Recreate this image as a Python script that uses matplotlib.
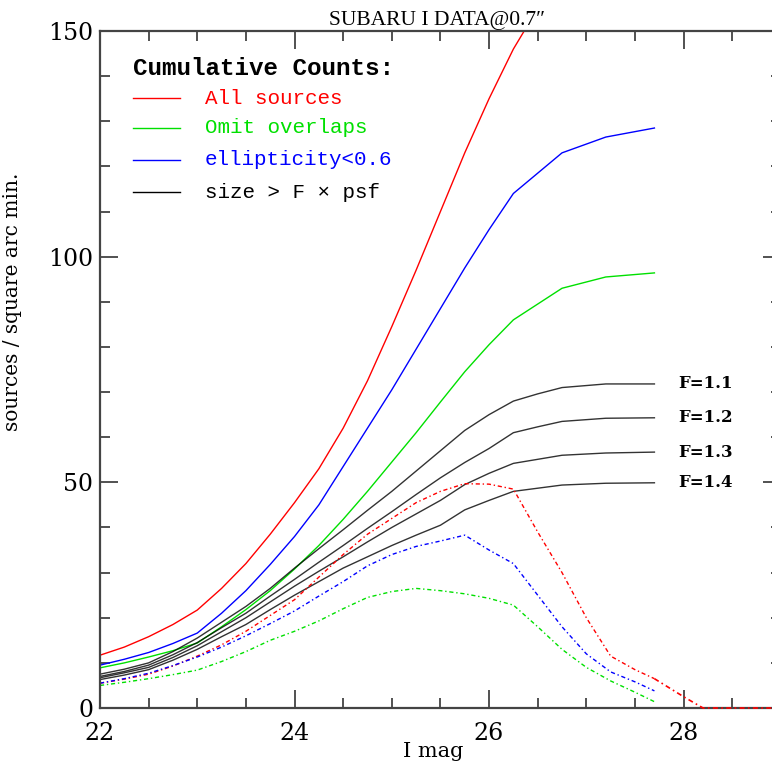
import numpy as np
import matplotlib.pyplot as plt
from matplotlib.ticker import MultipleLocator

# cumulative counts (solid) and differential counts (dash-dot)
mag = [22.0, 22.25, 22.5, 22.75, 23.0, 23.25, 23.5, 23.75, 24.0, 24.25, 24.5,
       24.75, 25.0, 25.25, 25.5, 25.75, 26.0, 26.25, 26.5, 26.75, 27.2, 27.7]

all_src = [11.7, 13.5, 15.8, 18.5, 21.7, 26.5, 32.0, 38.5, 45.5, 53.0, 62.0,
           72.5, 84.5, 97.0, 110.0, 123.0, 135.0, 146.0, 155.0, 162.0, 170.0, 174.0]
omit_ov = [8.9, 10.0, 11.3, 12.7, 14.4, 18.0, 21.8, 26.0, 30.8, 36.0, 41.8,
           48.0, 54.5, 61.0, 67.8, 74.5, 80.5, 86.0, 89.5, 93.0, 95.5, 96.4]
ellip = [9.5, 10.8, 12.3, 14.3, 16.6, 21.0, 26.0, 31.8, 38.0, 45.0, 53.5,
         62.0, 70.5, 79.5, 88.5, 97.5, 106.0, 114.0, 118.5, 123.0, 126.5, 128.5]

size_f = {
    "F=1.1": [7.5, 8.6, 10.0, 12.5, 15.5, 19.0, 22.5, 26.5, 31.0, 35.3, 39.5,
              43.8, 48.0, 52.5, 57.0, 61.5, 65.0, 68.0, 69.6, 71.0, 71.8, 71.8],
    "F=1.2": [7.0, 8.1, 9.5, 11.8, 14.5, 17.8, 21.0, 24.8, 28.5, 32.3, 36.0,
              39.8, 43.5, 47.3, 51.0, 54.4, 57.5, 61.0, 62.3, 63.5, 64.2, 64.3],
    "F=1.3": [6.7, 7.8, 9.0, 11.2, 13.8, 16.9, 20.0, 23.5, 27.0, 30.3, 33.5,
              36.8, 40.0, 43.0, 46.0, 49.5, 52.0, 54.2, 55.1, 56.0, 56.5, 56.7],
    "F=1.4": [6.3, 7.3, 8.5, 10.6, 13.0, 15.8, 18.5, 21.8, 25.0, 28.0, 31.0,
              33.5, 36.0, 38.3, 40.5, 43.9, 46.0, 48.0, 48.7, 49.4, 49.8, 49.9],
}

mag_d = [22.0, 22.25, 22.5, 22.75, 23.0, 23.25, 23.5, 23.75, 24.0, 24.25, 24.5,
         24.75, 25.0, 25.25, 25.5, 25.75, 26.0, 26.25, 26.5, 26.75, 27.0, 27.25,
         27.5, 27.7]
all_d = [5.5, 6.4, 7.5, 9.3, 11.5, 14.0, 17.0, 20.5, 24.0, 29.0, 34.0,
         38.5, 42.0, 45.5, 48.0, 49.7, 49.6, 48.5, 39.0, 30.0, 20.0, 11.5,
         8.5, 6.5]
all_d_tail_x = [27.7, 28.0, 28.2, 28.7, 29.2]
all_d_tail_y = [6.5, 2.5, 0.0, 0.0, 0.0]
ellip_d = [5.5, 6.5, 7.7, 9.4, 11.3, 13.5, 16.0, 18.7, 21.5, 24.8, 28.0,
           31.5, 34.0, 35.8, 37.0, 38.3, 35.0, 32.0, 25.0, 18.0, 12.0, 8.0,
           5.8, 3.8]
omit_d = [5.0, 5.7, 6.5, 7.4, 8.4, 10.3, 12.5, 15.0, 17.0, 19.3, 22.0,
          24.5, 25.8, 26.5, 26.0, 25.3, 24.3, 22.8, 18.0, 13.0, 9.0, 6.0,
          3.5, 1.4]

RED, GREEN, BLUE, BLACK = "#ff0000", "#00e000", "#0000ff", "#000000"
DD = (0, (3, 2, 1, 2))

fig = plt.figure(figsize=(7.72, 7.67), dpi=100)
ax = fig.add_axes([0.1295, 0.0769, 0.882, 0.8827])

ax.plot(mag, all_src, color=RED, lw=1.0)
ax.plot(mag, omit_ov, color=GREEN, lw=1.0)
ax.plot(mag, ellip, color=BLUE, lw=1.0)
for lab, vals in size_f.items():
    ax.plot(mag, vals, color=BLACK, lw=1.0, alpha=0.8)
    ax.text(27.95, vals[-1], lab, fontsize=12, family="DejaVu Serif",
            fontweight="bold", va="center", ha="left")

ax.plot(mag_d, all_d, color=RED, lw=1.0, ls=DD)
ax.plot(all_d_tail_x, all_d_tail_y, color=RED, lw=1.2, ls=DD, clip_on=False,
        zorder=5)
ax.plot(mag_d, ellip_d, color=BLUE, lw=1.0, ls=DD)
ax.plot(mag_d, omit_d, color=GREEN, lw=1.0, ls=DD)

ax.set_xlim(22, 29)
ax.set_ylim(0, 150)
ax.xaxis.set_major_locator(MultipleLocator(2))
ax.xaxis.set_minor_locator(MultipleLocator(0.5))
ax.yaxis.set_major_locator(MultipleLocator(50))
ax.yaxis.set_minor_locator(MultipleLocator(10))
ax.tick_params(which="both", direction="in", top=True, right=True,
               color="#333333", width=1.2)
ax.tick_params(which="major", length=13, labelsize=17)
ax.tick_params(axis="x", which="major", pad=10)
ax.tick_params(axis="y", which="major", pad=5)
ax.tick_params(which="minor", length=7)
for lb in ax.get_xticklabels() + ax.get_yticklabels():
    lb.set_family("DejaVu Serif")
for sp in ax.spines.values():
    sp.set_color("#444444")
    sp.set_linewidth(1.6)

ax.set_xlabel("I mag", fontsize=15, family="DejaVu Serif")
ax.xaxis.set_label_coords(0.49, -0.05)
ax.set_ylabel("sources / square arc min.", fontsize=14.5, family="DejaVu Serif")
ax.yaxis.set_label_coords(-0.115, 0.6)
ax.set_title("SUBARU I DATA@0.7\u2033", fontsize=15.5, family="Liberation Serif",
             pad=4, x=0.495)

# legend drawn by hand, like the original
mono = dict(family="Liberation Mono", fontsize=15, va="center", transform=ax.transAxes)
ax.text(0.048, 0.945, "Cumulative Counts:", fontweight="bold",
        **dict(mono, fontsize=17.5))
entries = [("All sources", RED), ("Omit overlaps", GREEN),
           ("ellipticity<0.6", BLUE), ("size > F \u00d7 psf", BLACK)]
ys = [0.901, 0.857, 0.810, 0.762]
for (lab, c), yy in zip(entries, ys):
    ax.plot([0.048, 0.117], [yy, yy], color=c, lw=1.0, transform=ax.transAxes)
    ax.text(0.154, yy, lab, color=c, **mono)

fig.savefig("out.png", dpi=100)
